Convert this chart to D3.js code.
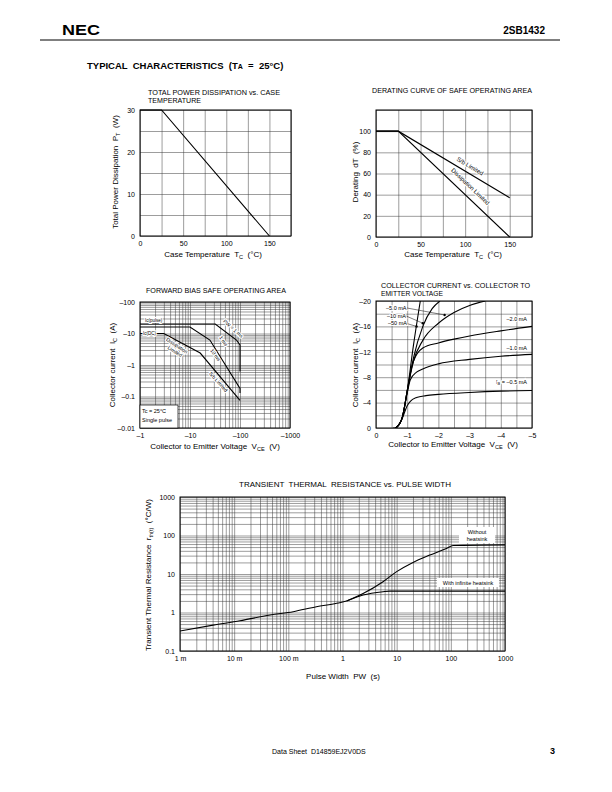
<!DOCTYPE html>
<html>
<head>
<meta charset="utf-8">
<script src="https://cdn.jsdelivr.net/npm/d3@7"></script>
<style>
body { margin: 0; background: #fff; }
svg { font-family: "Liberation Sans", Arial, Helvetica, sans-serif; }
svg text { white-space: pre; }
</style>
</head>
<body>
<svg id="page" width="612" height="792"></svg>
<script>
// ---- total power dissipation vs case temperature
var pdTemp = [0, 25, 150];
var pdWatts = [30, 30, 0];
var pdXTicks = [0, 50, 100, 150];
var pdYTicks = [0, 10, 20, 30];

// ---- derating curve
var drTemp = [0, 25, 150];
var drSbLimited = [100, 100, 37];
var drDissLimited = [100, 100, 0];
var drXTicks = [0, 50, 100, 150];
var drYTicks = [0, 20, 40, 60, 80, 100];

// ---- forward bias SOA (|Vce| V, |Ic| A)
var soaTopV = [1, 32, 85, 100, 100];
var soaTopI = [20, 20, 6.2, 4.3, 0.62];
var soaMidV = [1, 10, 25, 100, 100];
var soaMidI = [16, 16, 6.2, 0.18, 0.13];
var soaDcV = [1, 3, 16, 100];
var soaDcI = [10, 10, 2.4, 0.075];
var soaXTicks = [1, 10, 100, 1000];
var soaXLabels = ["\u20131", "\u201310", "\u2013100", "\u20131000"];
var soaYTicks = [0.01, 0.1, 1, 10, 100];
var soaYLabels = ["\u20130.01", "\u20130.1", "\u20131", "\u201310", "\u2013100"];

// ---- Ic vs Vce (|V|, |A|)
var ib05V = [0.55, 0.62, 0.68, 0.85, 1.0, 1.1, 1.3, 1.6, 2, 3, 4, 5];
var ib05I = [0, 0, 0.2, 1.6, 3.5, 4.2, 4.8, 5.1, 5.3, 5.6, 5.8, 5.9];
var ib1V = [0.62, 0.68, 0.85, 1.0, 1.1, 1.3, 1.5, 2, 3, 4, 5];
var ib1I = [0, 0.2, 1.8, 5.5, 7.6, 8.8, 9.3, 10.1, 10.8, 11.3, 11.6];
var ib2V = [0.62, 0.68, 0.85, 1.0, 1.1, 1.2, 1.5, 2, 2.5, 3, 4, 5];
var ib2I = [0, 0.2, 1.8, 5.8, 8.6, 10.5, 12.6, 13.4, 14, 14.5, 15.3, 16];
var ib5V = [0.62, 0.68, 0.85, 1.0, 1.2, 1.5, 2, 2.5, 3, 3.5];
var ib5I = [0, 0.2, 1.8, 5.8, 10.5, 13.8, 16.5, 18.2, 19.3, 20];
var ib10V = [0.62, 0.68, 0.85, 1.0, 1.2, 1.5, 1.8, 2.05];
var ib10I = [0, 0.2, 1.8, 5.8, 11, 16, 18.8, 20];
var ib50V = [0.62, 0.68, 0.85, 1.0, 1.2, 1.42];
var ib50I = [0, 0.2, 1.8, 5.8, 13, 20];
var icXTicks = [0, 1, 2, 3, 4, 5];
var icYTicks = [0, 4, 8, 12, 16, 20];

// ---- transient thermal resistance
var thCommonT = [0.001, 0.0041, 0.0128, 0.046, 0.123, 0.33, 0.78, 1.19];
var thCommonR = [0.33, 0.47, 0.61, 0.86, 1.05, 1.41, 1.73, 1.99];
var thNoSinkT = [1.19, 2.4, 5.6, 10, 20, 41, 83, 110, 1000];
var thNoSinkR = [1.99, 3.1, 6.3, 11.5, 20, 31, 46, 55, 57];
var thInfSinkT = [1.19, 2.4, 5.6, 7.5, 1000];
var thInfSinkR = [1.99, 2.85, 3.47, 3.6, 3.6];
var thXTicks = [0.001, 0.01, 0.1, 1, 10, 100, 1000];
var thXLabels = ["1 m", "10 m", "100 m", "1", "10", "100", "1000"];
var thYTicks = [0.1, 1, 10, 100, 1000];
var thYLabels = ["0.1", "1", "10", "100", "1000"];

var svg = d3.select("#page");

function grid(x, y, xGrid, yGrid) {
  var xr = x.range(), yr = y.range();
  var h = yr[0] - yr[1], w = xr[1] - xr[0];
  var g = svg.append("g");
  g.append("g").attr("transform", "translate(0," + yr[0] + ")")
    .call(d3.axisBottom(x).tickValues(xGrid).tickSize(-h).tickFormat(""));
  g.append("g").attr("transform", "translate(" + xr[0] + ",0)")
    .call(d3.axisLeft(y).tickValues(yGrid).tickSize(-w).tickFormat(""));
  g.selectAll(".domain").remove();
  g.selectAll("line").attr("stroke", "#3a3a3a").attr("stroke-width", 0.5);
  g.append("rect").attr("x", xr[0]).attr("y", yr[1]).attr("width", w).attr("height", h)
    .attr("fill", "none").attr("stroke", "#000").attr("stroke-width", 1);
}

function ticks(x, y, xVals, yVals, xFmt, yFmt) {
  var xr = x.range(), yr = y.range();
  var gx = svg.append("g").attr("transform", "translate(0," + (yr[0] + 1) + ")")
    .call(d3.axisBottom(x).tickValues(xVals).tickSize(0).tickPadding(4).tickFormat(xFmt));
  var gy = svg.append("g").attr("transform", "translate(" + (xr[0] - 3) + ",0)")
    .call(d3.axisLeft(y).tickValues(yVals).tickSize(0).tickPadding(2).tickFormat(yFmt));
  [gx, gy].forEach(function (g) {
    g.select(".domain").remove();
    g.attr("font-size", 7).attr("font-family", null);
  });
}

function curve(x, y, xs, ys, smooth, clip) {
  var line = d3.line().x(function (d) { return x(d[0]); }).y(function (d) { return y(d[1]); });
  if (smooth) line.curve(d3.curveMonotoneX);
  var p = svg.append("path").attr("d", line(d3.zip(xs, ys)))
    .attr("fill", "none").attr("stroke", "#000").attr("stroke-width", 1.1);
  if (clip) p.attr("clip-path", "url(#" + clip + ")");
}

function clipFor(id, x, y) {
  var xr = x.range(), yr = y.range();
  svg.append("clipPath").attr("id", id).append("rect")
    .attr("x", xr[0]).attr("y", yr[1]).attr("width", xr[1] - xr[0]).attr("height", yr[0] - yr[1]);
}

// parts: [text, isSub]
function label(px, py, rot, parts, size, anchor) {
  size = size || 8;
  var t = svg.append("text").attr("font-size", size)
    .attr("text-anchor", anchor || "middle")
    .attr("transform", "translate(" + px + "," + py + ")" + (rot ? " rotate(" + rot + ")" : ""));
  var prevSub = false;
  parts.forEach(function (p) {
    var s = t.append("tspan").text(p[0]);
    if (p[1]) s.attr("font-size", size * 0.7).attr("dy", 1.5);
    else if (prevSub) s.attr("dy", -1.5);
    prevSub = !!p[1];
  });
  return t;
}

function note(px, py, txt, size, anchor, rot) {
  return svg.append("text").text(txt).attr("font-size", size || 5.5)
    .attr("text-anchor", anchor || "start")
    .attr("transform", "translate(" + px + "," + py + ")" + (rot ? " rotate(" + rot + ")" : ""))
    .attr("stroke", "#fff").attr("stroke-width", 2).attr("paint-order", "stroke");
}

function title(px, py, txt, len) {
  svg.append("text").text(txt).attr("x", px).attr("y", py).attr("font-size", 6.8)
    .attr("textLength", len).attr("lengthAdjust", "spacingAndGlyphs");
}

// ---------------- header / footer
svg.append("text").text("NEC").attr("x", 62).attr("y", 35).attr("font-size", 14)
  .attr("font-weight", "bold").attr("textLength", 38).attr("lengthAdjust", "spacingAndGlyphs");
svg.append("text").text("2SB1432").attr("x", 545).attr("y", 34).attr("font-size", 10)
  .attr("font-weight", "bold").attr("text-anchor", "end");
svg.append("line").attr("x1", 40).attr("x2", 560).attr("y1", 40).attr("y2", 40)
  .attr("stroke", "#000").attr("stroke-width", 1);
var head = svg.append("text").attr("x", 87).attr("y", 69).attr("font-size", 9.5).attr("font-weight", "bold");
head.append("tspan").text("TYPICAL  CHARACTERISTICS  (T");
head.append("tspan").text("A").attr("font-size", 7);
head.append("tspan").text("  =  25\u00b0C)");
svg.append("text").text("Data Sheet  D14859EJ2V0DS").attr("x", 272).attr("y", 754).attr("font-size", 7);
svg.append("text").text("3").attr("x", 555).attr("y", 754).attr("font-size", 9).attr("font-weight", "bold")
  .attr("text-anchor", "end");

// ---------------- chart 1: power dissipation
var x1 = d3.scaleLinear().domain([0, 175]).range([140, 291]);
var y1 = d3.scaleLinear().domain([0, 30]).range([236, 110]);
grid(x1, y1, d3.range(0, 176, 25), d3.range(0, 31, 5));
ticks(x1, y1, pdXTicks, pdYTicks, d3.format("d"), d3.format("d"));
curve(x1, y1, pdTemp, pdWatts);
title(148, 94.5, "TOTAL POWER DISSIPATION vs. CASE", 132);
title(148, 102.5, "TEMPERATURE", 53);
label(118, 172, -90, [["Total Power Dissipation  P"], ["T", 1], ["  (W)"]], 8);
label(213, 257, 0, [["Case Temperature  T"], ["C", 1], ["  (\u00b0C)"]], 8);

// ---------------- chart 2: derating
var x2 = d3.scaleLinear().domain([0, 175]).range([376, 532]);
var y2 = d3.scaleLinear().domain([0, 120]).range([237, 110]);
grid(x2, y2, d3.range(0, 176, 25), d3.range(0, 121, 20));
ticks(x2, y2, drXTicks, drYTicks, d3.format("d"), d3.format("d"));
curve(x2, y2, drTemp, drSbLimited);
curve(x2, y2, drTemp, drDissLimited);
note(469, 168, "S/b Limited", 6, "middle", 31);
note(469, 188, "Dissipation Limited", 6, "middle", 43.5);
title(372, 92.5, "DERATING CURVE OF SAFE OPERATING AREA", 160);
label(358, 172, -90, [["Derating  dT  (%)"]], 8);
label(453, 257, 0, [["Case Temperature  T"], ["C", 1], ["  (\u00b0C)"]], 8);

// ---------------- chart 3: forward bias SOA
var x3 = d3.scaleLog().domain([1, 1000]).range([140, 290]);
var y3 = d3.scaleLog().domain([0.01, 100]).range([428, 302]);
grid(x3, y3, x3.ticks(), y3.ticks());
ticks(x3, y3, soaXTicks, soaYTicks,
  function (d, i) { return soaXLabels[i]; },
  function (d, i) { return soaYLabels[i]; });
clipFor("c3", x3, y3);
curve(x3, y3, soaTopV, soaTopI, false, "c3");
curve(x3, y3, soaMidV, soaMidI, false, "c3");
curve(x3, y3, soaDcV, soaDcI, false, "c3");
note(145, 321.5, "Ic(pulse)", 4.5);
note(143, 335, "Ic(DC)", 4.5);
note(176, 347, "Dissipation", 5, "middle", 33);
note(174, 353, "Limited", 5, "middle", 33);
note(232, 330, "PW = 1 ms", 5, "middle", 42);
note(222, 342, "1 ms", 5, "middle", 55);
note(214, 356, "10 ms", 5, "middle", 55);
note(217, 383, "S/b Limited", 5, "middle", 48);
svg.append("rect").attr("x", 140).attr("y", 405).attr("width", 38).attr("height", 23)
  .attr("fill", "#fff").attr("stroke", "#000").attr("stroke-width", 0.7);
svg.append("text").text("Tc = 25\u00b0C").attr("x", 142).attr("y", 413).attr("font-size", 5.5);
svg.append("text").text("Single pulse").attr("x", 142).attr("y", 422).attr("font-size", 5.5);
title(146, 292.5, "FORWARD BIAS SAFE OPERATING AREA", 140);
label(115, 365, -90, [["Collector current  I"], ["C", 1], ["  (A)"]], 8);
label(215, 449, 0, [["Collector to Emitter Voltage  V"], ["CE", 1], ["  (V)"]], 8);

// ---------------- chart 4: Ic vs Vce
var x4 = d3.scaleLinear().domain([0, 5]).range([376, 532]);
var y4 = d3.scaleLinear().domain([0, 20]).range([428, 301]);
grid(x4, y4, d3.range(0, 5.01, 0.5), d3.range(0, 20.1, 2));
ticks(x4, y4, icXTicks, icYTicks,
  function (d) { return d === 0 ? "0" : "\u2013" + d; },
  function (d) { return d === 0 ? "0" : "\u2013" + d; });
clipFor("c4", x4, y4);
[[ib05V, ib05I], [ib1V, ib1I], [ib2V, ib2I], [ib5V, ib5I], [ib10V, ib10I], [ib50V, ib50I]]
  .forEach(function (s) { curve(x4, y4, s[0], s[1], true, "c4"); });
// leaders for the steep curves
[[[407, 308], [x4(2.2), y4(17.8)]], [[405, 315.5], [x4(1.5), y4(16.5)]], [[405, 323], [x4(1.3), y4(16)]]]
  .forEach(function (l) {
    svg.append("line").attr("x1", l[0][0]).attr("y1", l[0][1]).attr("x2", l[1][0]).attr("y2", l[1][1])
      .attr("stroke", "#000").attr("stroke-width", 0.5);
    svg.append("circle").attr("cx", l[1][0]).attr("cy", l[1][1]).attr("r", 1.2).attr("fill", "#000");
  });
note(386, 310, "\u20135.0 mA", 5.5);
note(387, 317.5, "\u201310 mA", 5.5);
note(388, 325, "\u201350 mA", 5.5);
note(527, 321, "\u20132.0 mA", 5.5, "end");
note(527, 350, "\u20131.0 mA", 5.5, "end");
var ibNote = note(527, 384, "I", 5.5, "end");
ibNote.append("tspan").text("B").attr("font-size", 4).attr("dy", 1);
ibNote.append("tspan").text(" = \u20130.5 mA").attr("dy", -1);
title(381, 287.5, "COLLECTOR CURRENT vs. COLLECTOR TO", 149);
title(381, 295.5, "EMITTER VOLTAGE", 62);
label(358, 365, -90, [["Collector current  I"], ["C", 1], ["  (A)"]], 8);
label(453, 447, 0, [["Collector to Emitter Voltage  V"], ["CE", 1], ["  (V)"]], 8);

// ---------------- chart 5: transient thermal resistance
var x5 = d3.scaleLog().domain([0.001, 1000]).range([180, 505]);
var y5 = d3.scaleLog().domain([0.1, 1000]).range([651, 497]);
grid(x5, y5, x5.ticks(), y5.ticks());
ticks(x5, y5, thXTicks, thYTicks,
  function (d, i) { return thXLabels[i]; },
  function (d, i) { return thYLabels[i]; });
clipFor("c5", x5, y5);
curve(x5, y5, thCommonT, thCommonR, true, "c5");
curve(x5, y5, thNoSinkT, thNoSinkR, true, "c5");
curve(x5, y5, thInfSinkT, thInfSinkR, true, "c5");
svg.append("rect").attr("x", 459).attr("y", 527).attr("width", 36).attr("height", 16).attr("fill", "#fff");
svg.append("text").text("Without").attr("x", 477).attr("y", 534).attr("font-size", 5.5).attr("text-anchor", "middle");
svg.append("text").text("heatsink").attr("x", 477).attr("y", 541).attr("font-size", 5.5).attr("text-anchor", "middle");
svg.append("rect").attr("x", 437).attr("y", 578).attr("width", 62).attr("height", 9).attr("fill", "#fff");
svg.append("text").text("With infinite heatsink").attr("x", 468).attr("y", 584.5).attr("font-size", 5.5)
  .attr("text-anchor", "middle");
title(239, 486.5, "TRANSIENT  THERMAL  RESISTANCE vs. PULSE WIDTH", 212);
label(151, 575, -90, [["Transient Thermal Resistance  r"], ["th(t)", 1], ["  (\u00b0C/W)"]], 8);
label(343, 679, 0, [["Pulse Width  PW  (s)"]], 8);
</script>
</body>
</html>
